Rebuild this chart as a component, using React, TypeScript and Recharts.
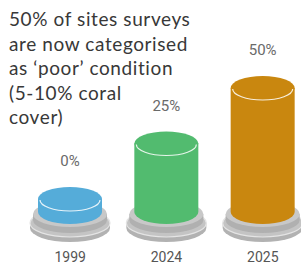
import { Bar, BarChart, LabelList, XAxis, YAxis } from "recharts";

const years = ["1999", "2024", "2025"];
const poorShare = [0, 25, 50];
const cylinderColors = ["#55acd9", "#52bb6f", "#c9870f"];
const titleLines = [
  "50% of sites surveys",
  "are now categorised",
  "as \u2018poor\u2019 condition",
  "(5-10% coral",
  "cover)",
];

const data = years.map((year, i) => ({ year, value: poorShare[i], color: cylinderColors[i] }));

const RY = 12;
const BASE_DROP = 13;

function Cylinder(props: any) {
  const { x, y, width, height, payload } = props;
  const cx = x + width / 2;
  const rx = width / 2;
  const top = y;
  const bottom = y + height + BASE_DROP;
  // two grey plates under each cylinder
  const lowerTop = bottom + 11;
  const upperTop = bottom + 2;
  return (
    <g>
      <path
        d={`M${cx - 40},${lowerTop} L${cx - 40},${lowerTop + 5} A40,14 0 0 0 ${cx + 40},${lowerTop + 5} L${cx + 40},${lowerTop} Z`}
        fill="#b2b2b2"
      />
      <ellipse cx={cx} cy={lowerTop} rx={40} ry={14} fill="#c4c4c4" stroke="#e4e4e4" strokeWidth={1.2} />
      <path
        d={`M${cx - 37},${upperTop} L${cx - 37},${upperTop + 6} A37,13 0 0 0 ${cx + 37},${upperTop + 6} L${cx + 37},${upperTop} Z`}
        fill="#b0b0b0"
      />
      <ellipse cx={cx} cy={upperTop} rx={37} ry={13} fill="#c8c8c8" />
      <path
        d={`M${cx - rx},${top} L${cx - rx},${bottom} A${rx},${RY} 0 0 0 ${cx + rx},${bottom} L${cx + rx},${top} Z`}
        fill={payload.color}
      />
      <ellipse cx={cx} cy={top} rx={rx} ry={RY} fill={payload.color} />
      <path
        d={`M${cx - rx + 2},${top + 1} A${rx - 2},${RY - 1} 0 0 0 ${cx + rx - 2},${top + 1}`}
        fill="none"
        stroke="#ffffff"
        strokeOpacity={0.85}
        strokeWidth={1.2}
      />
    </g>
  );
}

function ValueLabel(props: any) {
  const { x, y, width, value } = props;
  return (
    <text
      x={x + width / 2}
      y={y - 38}
      textAnchor="middle"
      dominantBaseline="central"
      fontFamily="Roboto"
      fontSize={15}
      fill="#6a6a6a"
    >
      {`${value}%`}
    </text>
  );
}

function YearTick(props: any) {
  const { x, y, payload } = props;
  return (
    <text x={x} y={y + 50} textAnchor="middle" dominantBaseline="central" fontFamily="Roboto" fontSize={14} fill="#555">
      {payload.value}
    </text>
  );
}

export default function App() {
  return (
    <div style={{ position: "absolute", left: 0, top: 0, width: 301, height: 268, background: "#fff", overflow: "hidden" }}>
      <BarChart width={301} height={268} data={data} margin={{ top: 88, right: -10, bottom: 0, left: 22 }}>
        <XAxis dataKey="year" axisLine={false} tickLine={false} height={69} tick={<YearTick />} interval={0} />
        <YAxis hide domain={[0, 50]} />
        <Bar dataKey="value" barSize={64} shape={<Cylinder />} isAnimationActive={false}>
          <LabelList dataKey="value" content={<ValueLabel />} />
        </Bar>
      </BarChart>
      <div
        style={{
          position: "absolute",
          left: 9,
          top: 7,
          fontFamily: "Lato",
          fontSize: 19,
          lineHeight: "24.5px",
          letterSpacing: "0.6px",
          color: "#383838",
        }}
      >
        {titleLines.map((line) => (
          <div key={line} style={{ width: "fit-content", whiteSpace: "pre" }}>
            {line}
          </div>
        ))}
      </div>
    </div>
  );
}
